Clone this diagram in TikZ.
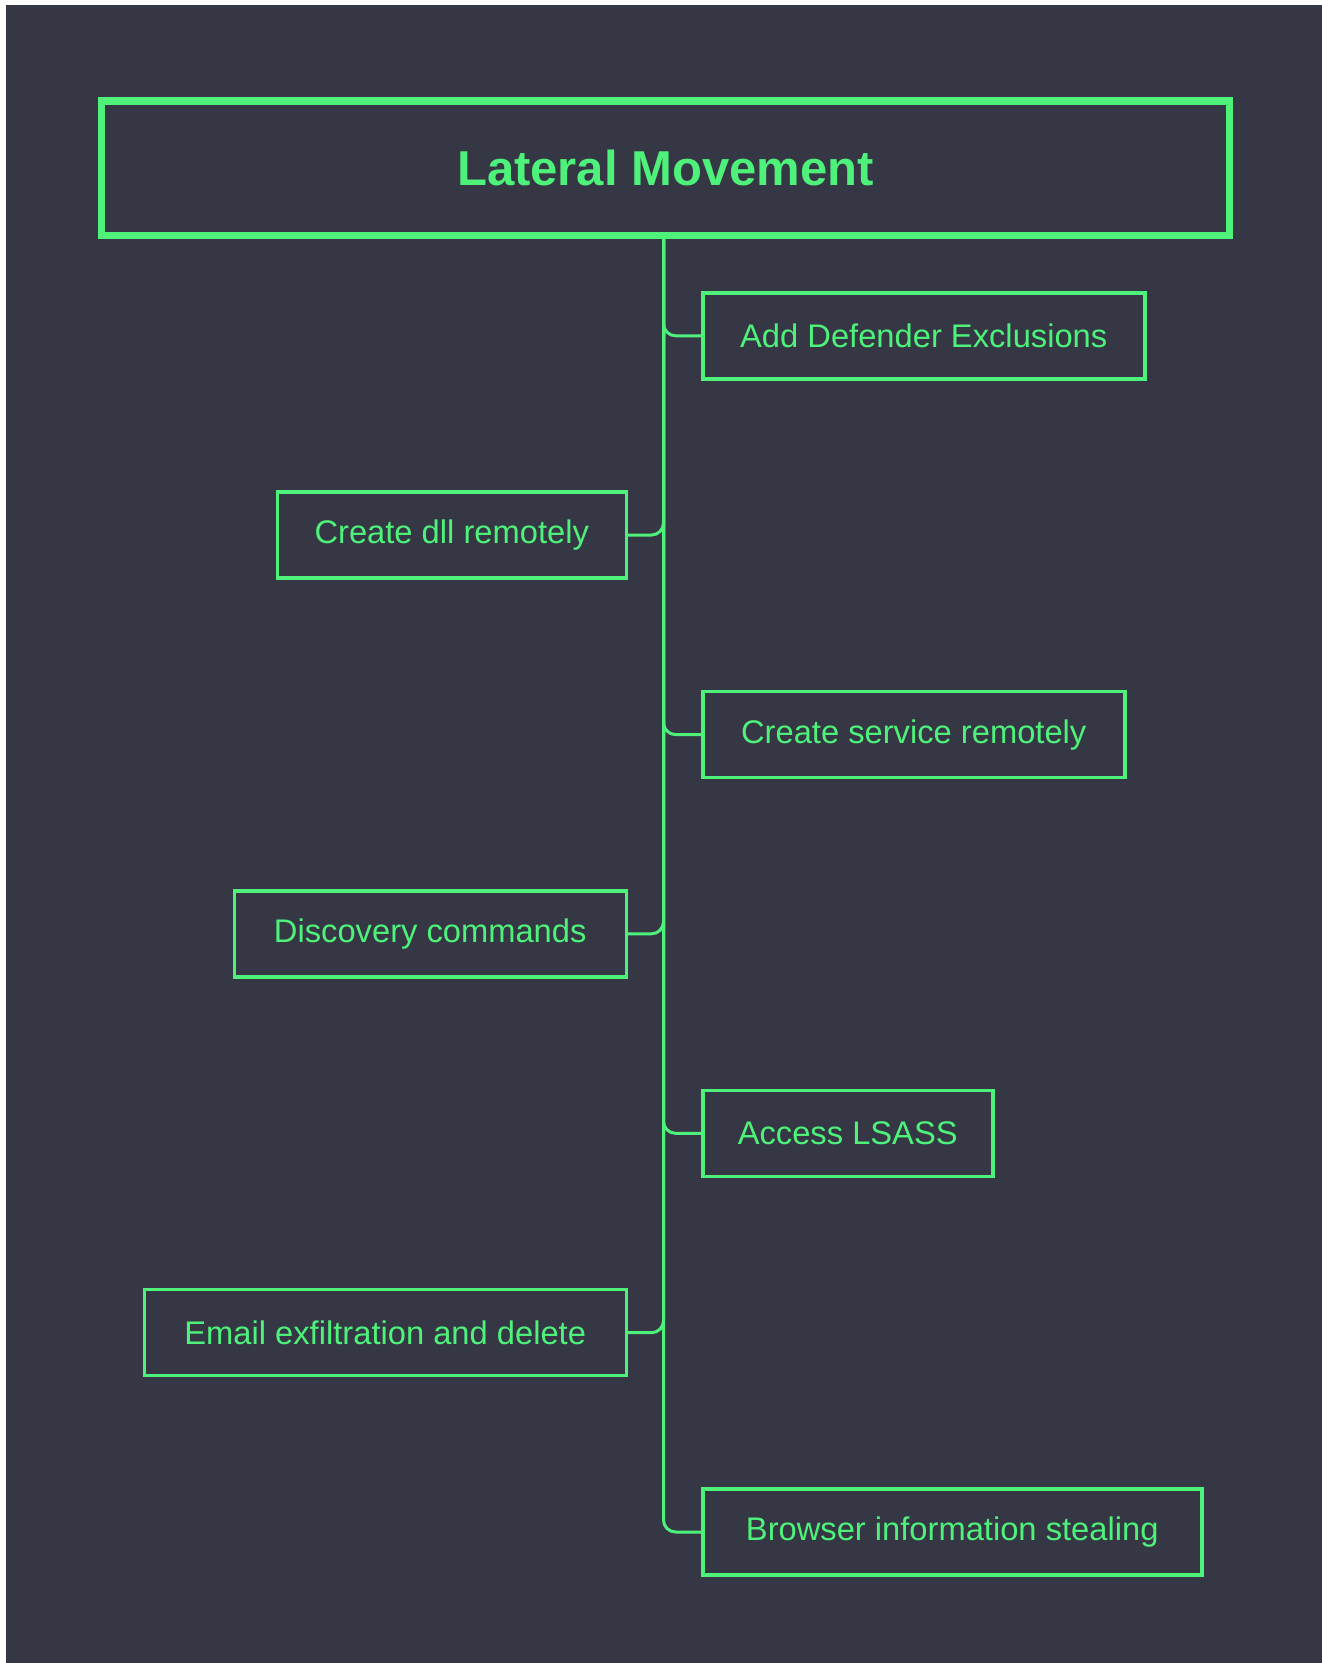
\documentclass[tikz,border=0pt]{standalone}
\usepackage{fontspec}
\setmainfont{Liberation Sans}
\definecolor{lm}{HTML}{4EF27A}
\definecolor{bg}{HTML}{353744}
\begin{document}
\begin{tikzpicture}[x=1pt,y=-1pt,
  box/.style={draw=lm, line width=3.5pt, minimum height=86pt, inner sep=0pt, text=lm, font=\fontsize{32.7}{36}\selectfont},
  titlebox/.style={draw=lm, line width=7.5pt, inner sep=0pt, text=lm, font=\fontsize{49}{54}\selectfont\bfseries},
  conn/.style={draw=lm, line width=3pt, rounded corners=12pt}]
\fill[white] (0,0) rectangle (1322,1663);
\fill[bg] (6,5) rectangle (1322,1663);
\useasboundingbox (0,0) rectangle (1322,1663);
\node[titlebox, minimum width=1128pt, minimum height=134.5pt] (title) at (665.5,168.25) {Lateral Movement};
\coordinate (trunk) at (663.5,237);
\node[box, anchor=west, minimum width=442pt] (add) at (701,335.75) {Add Defender Exclusions};
\node[box, anchor=east, minimum width=349pt] (dll) at (628,535) {Create dll remotely};
\node[box, anchor=west, minimum width=422pt] (svc) at (701,734.6) {Create service remotely};
\node[box, anchor=east, minimum width=392pt] (disc) at (628,933.8) {Discovery commands};
\node[box, anchor=west, minimum width=290pt] (lsass) at (701,1133.3) {Access LSASS};
\node[box, anchor=east, minimum width=482pt] (email) at (628,1332.7) {Email exfiltration and delete};
\node[box, anchor=west, minimum width=499pt] (browser) at (701,1532) {Browser information stealing};
\foreach \n in {add,svc,lsass,browser}{\draw[conn] (trunk) |- (\n.west);}
\foreach \n in {dll,disc,email}{\draw[conn] (trunk) |- (\n.east);}
\end{tikzpicture}
\end{document}
